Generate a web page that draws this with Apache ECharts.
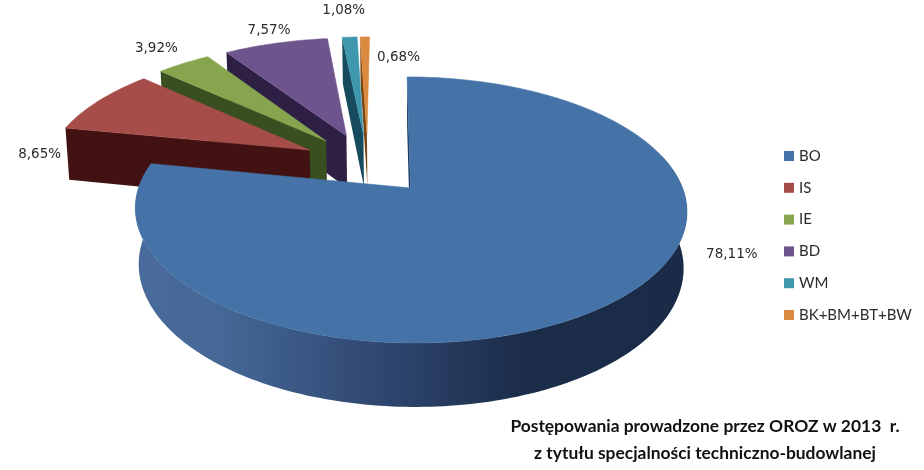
<!DOCTYPE html>
<html><head><meta charset="utf-8">
<script src="https://cdn.jsdelivr.net/npm/echarts@6/dist/echarts.min.js"></script>
<style>html,body{margin:0;padding:0;background:#fff}#c{width:924px;height:470px}</style>
</head><body><div id="c"></div>
<script>
// ---- data ----
const categories = ['BO','IS','IE','BD','WM','BK+BM+BT+BW'];
const shares = [78.11, 8.65, 3.92, 7.57, 1.08, 0.68];
const titleLines = ['Postępowania prowadzone przez OROZ w 2013  r.', 'z tytułu specjalności techniczno-budowlanej'];

// ---- style / layout ----
const topColors = ['#4573a7','#a64d4a','#87a54e','#6e548d','#3f97ae','#d98a3f'];
const wallColors = ['#17365d','#421111','#3a4f20','#2e1f45','#174a5c','#7a4510'];
const labelNudge = [[82,-70],[-28,61],[-7,-4],[3,0],[-4,-13],[34,34]];
const P = {x0:410.5, y0:188, a:272, b:129.4, p:0.165, q:0.012, h:56, skew:-4, explode:0.252};

const total = shares.reduce((s,v)=>s+v,0);
const starts = []; shares.reduce((s,v,i)=>{starts[i]=s;return s+v;},0);

function project(X,Y,z){
  const w = 1 + P.p*Y + P.q*z;
  return [P.x0 + (P.a*X + P.skew*Y)/w, P.y0 + (-P.b*Y + P.h*z)/w];
}
const ang = v => v/total*2*Math.PI;
const midOf = i => ang(starts[i]+shares[i]/2);
// the picture's origin sits on the first slice's exploded tip
function apexOf(i){
  const m0 = midOf(0), m = midOf(i);
  return [P.explode*(Math.sin(m)-Math.sin(m0)), P.explode*(Math.cos(m)-Math.cos(m0))];
}
function rim(i,t,z){
  const c = apexOf(i);
  return project(c[0]+Math.sin(t), c[1]+Math.cos(t), z);
}
function tip(i,z){ const c = apexOf(i); return project(c[0],c[1],z); }
function arc(i,t0,t1,z){
  const n = Math.max(2,Math.ceil(Math.abs(t1-t0)/0.02)), pts=[];
  for(let k=0;k<=n;k++) pts.push(rim(i,t0+(t1-t0)*k/n,z));
  return pts;
}
function renderSlice(i){
  const t0 = ang(starts[i]), t1 = ang(starts[i]+shares[i]);
  const kids = [];
  // radial wall on the slice's leading edge
  kids.push({type:'polygon',shape:{points:[tip(i,0),rim(i,t0,0),rim(i,t0,1),tip(i,1)]},
    style:{fill:wallColors[i]}});
  // outer curved wall of the big front slice
  if(i===0){
    const a0 = ang(total)*0.21, up = arc(i,a0,t1,0), lo = arc(i,a0,t1,1).reverse();
    kids.push({type:'polygon',shape:{points:up.concat(lo)},style:{fill:{
      type:'linear',x:1,y:0,x2:0,y2:0,colorStops:[
        {offset:0,color:'#1a2b47'},{offset:0.3,color:'#1c2d4a'},{offset:0.55,color:'#2f4670'},
        {offset:0.85,color:'#456896'},{offset:1,color:'#486b9c'}]}}});
  }
  // top face
  kids.push({type:'polygon',shape:{points:[tip(i,0)].concat(arc(i,t0,t1,0))},
    style:{fill:topColors[i],stroke:topColors[i],lineWidth:0.6}});
  // data label
  const m = (t0+t1)/2, c = apexOf(i);
  const lp = project(c[0]+1.16*Math.sin(m), c[1]+1.16*Math.cos(m), 0);
  kids.push({type:'text',z2:50,style:{
    x:lp[0]+labelNudge[i][0], y:lp[1]+labelNudge[i][1],
    text:shares[i].toFixed(2).replace('.',',')+'%',
    fill:'#2b2b2b',font:'13.5px "DejaVu Sans"',align:'center',verticalAlign:'middle'}});
  return {type:'group',children:kids};
}

const chart = echarts.init(document.getElementById('c'),null,{renderer:'canvas'});
const order = [5,4,3,2,1,0];
chart.setOption({
  animation:false, backgroundColor:'#fff',
  title:{text:titleLines[0]+'\n'+titleLines[1],left:700,top:408,textAlign:'center',
    textStyle:{fontFamily:'Lato',fontWeight:'bold',fontSize:17.4,lineHeight:27,color:'#111'}},
  legend:{orient:'vertical',left:779,top:142,itemWidth:10,itemHeight:10,itemGap:13.8,
    data:categories.map(n=>({name:n,icon:'rect'})),selectedMode:false,
    textStyle:{fontFamily:'Lato',fontSize:15,lineHeight:18,color:'#2b2b2b'}},
  series:order.map(i=>({
    type:'custom',name:categories[i],coordinateSystem:'none',silent:true,
    itemStyle:{color:topColors[i]},
    data:[shares[i]],
    renderItem:()=>renderSlice(i)
  }))
});
</script></body></html>
